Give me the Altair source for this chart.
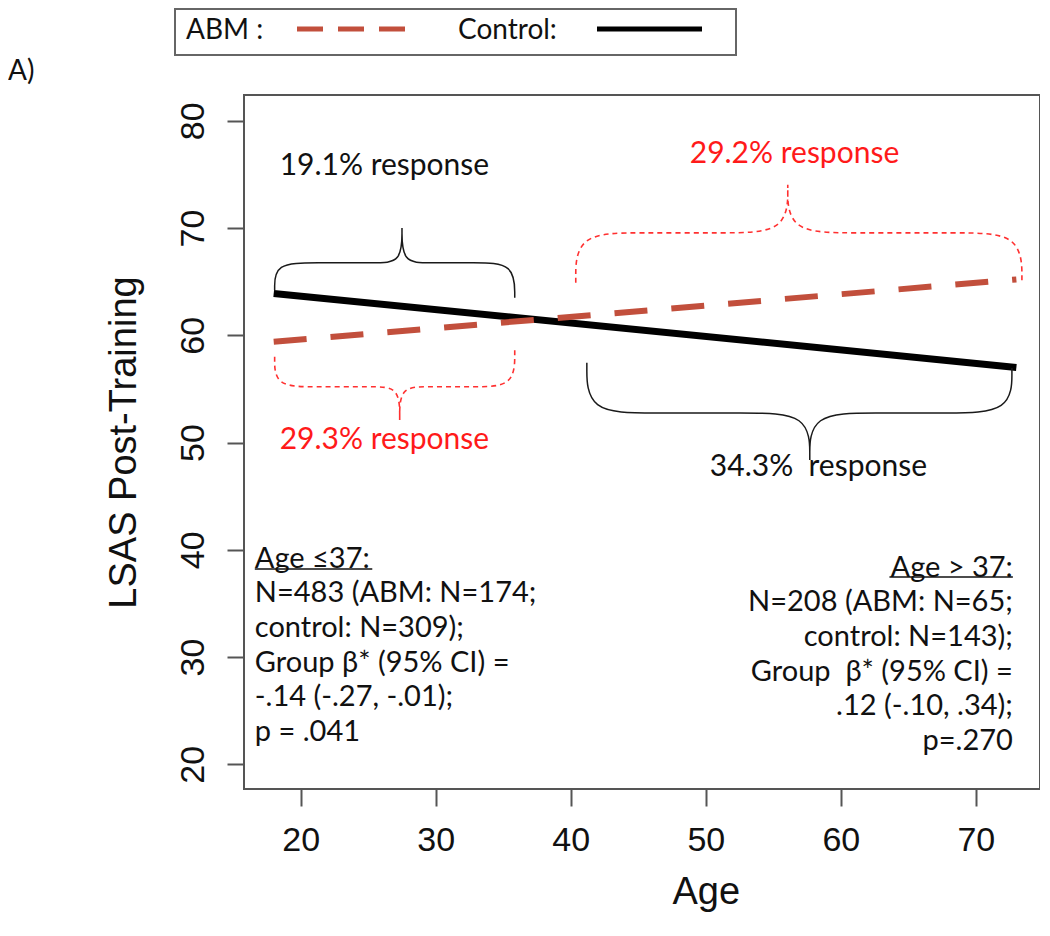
import altair as alt
import pandas as pd

# ---------------- data ----------------
line_ages = [18, 73]
abm_lsas = [59.4, 65.2]
control_lsas = [63.9, 57.0]

x_ticks = [20, 30, 40, 50, 60, 70]
y_ticks = [20, 30, 40, 50, 60, 70, 80]

# curly braces (annotation shapes, in data units)
brace_names = ["young_control", "young_abm", "old_abm", "old_control"]
brace_style = ["black", "red", "red", "black"]
brace_x0 = [18.07, 18.07, 40.37, 41.19]
brace_x1 = [35.85, 35.85, 73.41, 72.67]
brace_xt = [27.5, 27.33, 56.07, 57.7]
brace_y0 = [64.2, 58.0, 64.89, 57.43]
brace_y1 = [63.5, 58.6, 64.89, 56.96]
brace_bar = [66.75, 55.2, 69.55, 52.76]
brace_tip = [70.0, 52.1, 74.03, 48.38]
brace_r_end = [1.5, 1.5, 2.4, 2.4]
brace_r_tip = [1.0, 1.0, 2.4, 2.4]

resp_text = ["19.1% response", "29.2% response", "29.3% response", "34.3%\u00a0 response"]
resp_age = [18.44, 48.81, 18.44, 50.3]
resp_lsas = [75.8, 76.92, 50.24, 47.72]
resp_color = ["#111111", "#FF1A1A", "#FF1A1A", "#111111"]

left_lines = ["Age \u226437:", "N=483 (ABM: N=174;", "control: N=309);",
              "Group \u03b2* (95% CI) =", "-.14 (-.27, -.01);", "p = .041"]
right_lines = ["Age > 37:", "N=208 (ABM: N=65;", "control: N=143);",
               "Group \u00a0\u03b2* (95% CI) =", ".12 (-.10, .34);", "p=.270"]
block_age = [16.6, 72.74]
block_lsas = [40.49, 39.65]
block_align = ["left", "right"]

under_x0 = [16.6, 63.6]
under_x1 = [25.3, 72.74]
under_y = [38.2, 37.46]

# ---------------- build tables ----------------
lines_df = pd.DataFrame({
    "age": line_ages * 2,
    "lsas": abm_lsas + control_lsas,
    "group": ["ABM"] * 2 + ["Control"] * 2,
})

rows = []
for k, name in enumerate(brace_names):
    x0, x1, xt = brace_x0[k], brace_x1[k], brace_xt[k]
    y0, y1, bar, tip = brace_y0[k], brace_y1[k], brace_bar[k], brace_tip[k]
    re, rt = brace_r_end[k], brace_r_tip[k]
    pts = [(x0, y0), (x0, bar), (x0 + 2 * re, bar), (xt - 2 * rt, bar), (xt, bar),
           (xt, tip), (xt, tip), (xt, tip),
           (xt, bar), (xt + 2 * rt, bar), (x1 - 2 * re, bar), (x1, bar), (x1, y1)]
    for i, (a, b) in enumerate(pts):
        rows.append({"brace": name, "style": brace_style[k], "i": i, "age": a, "lsas": b})
brace_df = pd.DataFrame(rows)

resp_df = pd.DataFrame({"text": resp_text, "age": resp_age, "lsas": resp_lsas, "color": resp_color})
block_df = pd.DataFrame({"text": ["\n".join(left_lines), "\n".join(right_lines)],
                         "age": block_age, "lsas": block_lsas, "align": block_align})
under_df = pd.DataFrame({"age": under_x0, "x1": under_x1, "lsas": under_y})

X_DOMAIN = [15.8, 74.75]
PLOT_W = 796
xscale = alt.Scale(domain=X_DOMAIN, nice=False, zero=False)
yscale = alt.Scale(domain=[17.7, 82.4], nice=False, zero=False)

# the x title sits under the 50 tick in the original figure
title_x = (50 - X_DOMAIN[0]) / (X_DOMAIN[1] - X_DOMAIN[0]) * PLOT_W

xaxis = alt.Axis(values=x_ticks, title="Age", titlePadding=16, labelPadding=17,
                 titleX=title_x, titleAlign="center", titleAnchor="start")
yaxis = alt.Axis(values=y_ticks, title="LSAS Post-Training", labelAngle=270,
                 labelAlign="center", labelBaseline="bottom", labelPadding=17, titlePadding=33)

def X(field):
    return alt.X(field, type="quantitative", scale=xscale, axis=xaxis)

def Y(field):
    return alt.Y(field, type="quantitative", scale=yscale, axis=yaxis)

ANN_FONT = "Lato"

control_line = alt.Chart(lines_df).transform_filter("datum.group == 'Control'").mark_line(
    color="#000000", strokeWidth=7).encode(x=X("age"), y=Y("lsas"))

abm_line = alt.Chart(lines_df).transform_filter("datum.group == 'ABM'").mark_line(
    color="#C24F3C", strokeWidth=6, strokeDash=[33, 24], strokeCap="butt").encode(
    x=X("age"), y=Y("lsas"))

black_braces = alt.Chart(brace_df).transform_filter("datum.style == 'black'").mark_line(
    interpolate="basis", color="#1a1a1a", strokeWidth=1.5).encode(
    x=X("age"), y=Y("lsas"), detail="brace:N", order=alt.Order("i:Q"))

red_braces = alt.Chart(brace_df).transform_filter("datum.style == 'red'").mark_line(
    interpolate="basis", color="#FF3030", strokeWidth=1.6, strokeDash=[5, 4]).encode(
    x=X("age"), y=Y("lsas"), detail="brace:N", order=alt.Order("i:Q"))

resp_text_layer = alt.Chart(resp_df).mark_text(
    font=ANN_FONT, fontSize=30, align="left", baseline="middle").encode(
    x=X("age"), y=Y("lsas"), text="text:N", color=alt.Color("color:N", scale=None))

left_block = alt.Chart(block_df).transform_filter("datum.align == 'left'").mark_text(
    font=ANN_FONT, fontSize=29, align="left", baseline="top", lineBreak="\n",
    lineHeight=34.7, color="#111111").encode(x=X("age"), y=Y("lsas"), text="text:N")

right_block = alt.Chart(block_df).transform_filter("datum.align == 'right'").mark_text(
    font=ANN_FONT, fontSize=29, align="right", baseline="top", lineBreak="\n",
    lineHeight=34.7, color="#111111").encode(x=X("age"), y=Y("lsas"), text="text:N")

underlines = alt.Chart(under_df).mark_rule(color="#111111", strokeWidth=1.5).encode(
    x=X("age"), x2="x1", y=Y("lsas"))

one = pd.DataFrame({"a": [0]})
legend_box = alt.Chart(one).mark_rect(fill="white", stroke="#666666", strokeWidth=2).encode(
    x=alt.value(-69), x2=alt.value(492), y=alt.value(-86), y2=alt.value(-40))
legend_abm_txt = alt.Chart(one).mark_text(
    text="ABM :", font=ANN_FONT, fontSize=28, align="left", baseline="middle", color="#111111").encode(
    x=alt.value(-58), y=alt.value(-64))
legend_ctl_txt = alt.Chart(one).mark_text(
    text="Control:", font=ANN_FONT, fontSize=28, align="left", baseline="middle", color="#111111").encode(
    x=alt.value(214), y=alt.value(-64))
legend_abm_line = alt.Chart(one).mark_rule(
    color="#C24F3C", strokeWidth=5, strokeDash=[26, 15], strokeCap="butt").encode(
    x=alt.value(53), x2=alt.value(161), y=alt.value(-66))
legend_ctl_line = alt.Chart(one).mark_rule(color="#000000", strokeWidth=5).encode(
    x=alt.value(353), x2=alt.value(458), y=alt.value(-66))
panel_label = alt.Chart(one).mark_text(
    text="A)", font=ANN_FONT, fontSize=28, align="left", baseline="middle", color="#111111").encode(
    x=alt.value(-236), y=alt.value(-23))

chart = alt.layer(
    control_line, abm_line, black_braces, red_braces, resp_text_layer,
    left_block, right_block, underlines,
    legend_box, legend_abm_txt, legend_ctl_txt, legend_abm_line, legend_ctl_line, panel_label,
).properties(
    width=PLOT_W, height=694,
    autosize=alt.AutoSizeParams(type="none"),
    padding={"left": 236, "top": 87, "right": 0, "bottom": 134},
).configure_view(
    stroke="#555555", strokeWidth=2, clip=False
).configure_axis(
    domain=False, grid=False, ticks=True, tickSize=17, tickWidth=2, tickColor="#555555",
    labelFont="Liberation Sans", labelFontSize=34, labelColor="#111111",
    titleFont="Liberation Sans", titleFontSize=38, titleFontWeight="normal", titleColor="#111111",
)

chart.save("out.html", embed_options={"renderer": "svg", "actions": False})
